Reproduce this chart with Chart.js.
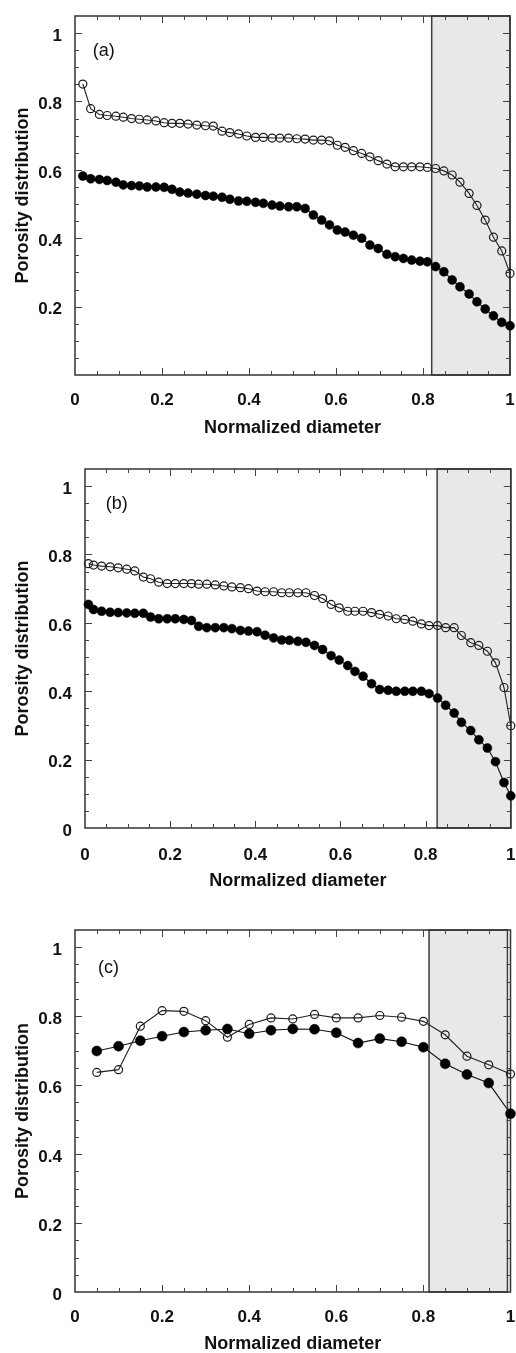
<!DOCTYPE html>
<html>
<head>
<meta charset="utf-8">
<script src="https://cdn.jsdelivr.net/npm/chart.js@4.4.1/dist/chart.umd.min.js"></script>
<style>
html, body { margin: 0; padding: 0; background: #fff; }
body { position: relative; width: 516px; height: 1353px; overflow: hidden; }
canvas { position: absolute; left: 0; }
</style>
</head>
<body>
<canvas id="grafA" width="516" height="437" style="top:0px"></canvas>
<canvas id="grafB" width="516" height="450" style="top:440px"></canvas>
<canvas id="grafC" width="516" height="461" style="top:892px"></canvas>
<script>
// panel (a)
var xA = [0.018, 0.036, 0.056, 0.074, 0.094, 0.111, 0.130, 0.148, 0.166, 0.186, 0.205, 0.223, 0.241, 0.260,
  0.280, 0.300, 0.318, 0.338, 0.356, 0.376, 0.395, 0.415, 0.433, 0.453, 0.471, 0.491, 0.510, 0.529, 0.548,
  0.567, 0.585, 0.603, 0.621, 0.640, 0.659, 0.678, 0.697, 0.717, 0.736, 0.755, 0.774, 0.793, 0.810, 0.829,
  0.848, 0.867, 0.885, 0.906, 0.924, 0.943, 0.962, 0.981, 1.0];
var abiertoA = [0.851, 0.779, 0.762, 0.759, 0.757, 0.754, 0.750, 0.748, 0.746, 0.743, 0.738, 0.736, 0.736, 0.734,
  0.731, 0.729, 0.728, 0.713, 0.709, 0.705, 0.699, 0.695, 0.695, 0.693, 0.693, 0.693, 0.691, 0.690, 0.687,
  0.687, 0.685, 0.672, 0.666, 0.656, 0.648, 0.638, 0.627, 0.617, 0.609, 0.609, 0.609, 0.609, 0.607, 0.604,
  0.597, 0.585, 0.564, 0.531, 0.496, 0.453, 0.403, 0.363, 0.297];
var llenoA = [0.582, 0.574, 0.572, 0.569, 0.564, 0.556, 0.554, 0.553, 0.550, 0.550, 0.549, 0.543, 0.535, 0.532,
  0.529, 0.525, 0.523, 0.520, 0.514, 0.509, 0.508, 0.505, 0.502, 0.497, 0.494, 0.492, 0.492, 0.487, 0.468,
  0.453, 0.439, 0.424, 0.418, 0.409, 0.400, 0.380, 0.370, 0.353, 0.346, 0.341, 0.336, 0.333, 0.331, 0.317,
  0.302, 0.278, 0.258, 0.237, 0.214, 0.193, 0.173, 0.154, 0.144];

// panel (b)
var xB = [0.008, 0.020, 0.039, 0.059, 0.078, 0.098, 0.117, 0.137, 0.154, 0.173, 0.193, 0.212, 0.232, 0.250,
  0.267, 0.286, 0.306, 0.326, 0.345, 0.365, 0.384, 0.404, 0.423, 0.443, 0.462, 0.480, 0.500, 0.519, 0.539,
  0.558, 0.578, 0.597, 0.617, 0.634, 0.653, 0.673, 0.692, 0.712, 0.731, 0.751, 0.770, 0.790, 0.808, 0.828,
  0.847, 0.867, 0.884, 0.906, 0.925, 0.945, 0.964, 0.984, 1.0];
var abiertoB = [0.773, 0.769, 0.766, 0.764, 0.761, 0.757, 0.752, 0.734, 0.729, 0.719, 0.715, 0.715, 0.715, 0.715,
  0.713, 0.713, 0.711, 0.708, 0.705, 0.703, 0.700, 0.693, 0.691, 0.691, 0.688, 0.688, 0.688, 0.688, 0.680,
  0.671, 0.654, 0.644, 0.634, 0.634, 0.634, 0.630, 0.625, 0.620, 0.612, 0.610, 0.605, 0.597, 0.592, 0.592,
  0.586, 0.586, 0.563, 0.542, 0.534, 0.517, 0.483, 0.411, 0.299];
var llenoB = [0.654, 0.639, 0.634, 0.631, 0.630, 0.629, 0.628, 0.628, 0.617, 0.612, 0.612, 0.612, 0.610, 0.607,
  0.590, 0.586, 0.586, 0.586, 0.583, 0.578, 0.576, 0.574, 0.564, 0.556, 0.550, 0.549, 0.546, 0.543, 0.534,
  0.522, 0.504, 0.491, 0.475, 0.458, 0.444, 0.422, 0.405, 0.403, 0.400, 0.400, 0.400, 0.400, 0.393, 0.380,
  0.359, 0.336, 0.309, 0.285, 0.258, 0.234, 0.194, 0.133, 0.094];

// panel (c)
var xC = [0.05, 0.10, 0.15, 0.20, 0.25, 0.30, 0.35, 0.40, 0.45, 0.50, 0.55, 0.60, 0.65, 0.70, 0.75, 0.80,
  0.85, 0.90, 0.95, 1.00];
var abiertoC = [0.637, 0.645, 0.771, 0.816, 0.814, 0.787, 0.739, 0.776, 0.795, 0.792, 0.805, 0.795, 0.795,
  0.802, 0.797, 0.785, 0.746, 0.684, 0.659, 0.632];
var llenoC = [0.699, 0.713, 0.729, 0.742, 0.754, 0.759, 0.763, 0.749, 0.759, 0.763, 0.762, 0.752, 0.722,
  0.735, 0.726, 0.710, 0.662, 0.631, 0.606, 0.517];

// ejes
var xTicks = [0, 0.2, 0.4, 0.6, 0.8, 1];
var xTickLabels = ['0', '0.2', '0.4', '0.6', '0.8', '1'];
var yTicksA = [0.2, 0.4, 0.6, 0.8, 1];
var yTickLabelsA = ['0.2', '0.4', '0.6', '0.8', '1'];
var yTicksBC = [0, 0.2, 0.4, 0.6, 0.8, 1];
var yTickLabelsBC = ['0', '0.2', '0.4', '0.6', '0.8', '1'];

var fuente = 'Liberation Sans';

function puntos(xs, ys) {
  return xs.map(function(x, i) { return {x: x, y: ys[i]}; });
}

// zona sombreada, marco y ticks hacia dentro
var pluginMarco = {
  id: 'marco',
  beforeDatasetsDraw: function(chart, args, opts) {
    var ctx = chart.ctx, a = chart.chartArea;
    var sx = chart.scales.x, sy = chart.scales.y;
    var x1 = sx.getPixelForValue(opts.zona[0]);
    var x2 = sx.getPixelForValue(opts.zona[1]);
    ctx.save();
    ctx.fillStyle = '#e8e8e8';
    ctx.fillRect(x1, a.top, x2 - x1, a.bottom - a.top);
    ctx.strokeStyle = '#3c3c3c';
    ctx.lineWidth = 1.5;
    ctx.strokeRect(x1, a.top, x2 - x1, a.bottom - a.top);

    ctx.strokeStyle = '#333';
    ctx.lineWidth = 1.5;
    ctx.strokeRect(a.left, a.top, a.right - a.left, a.bottom - a.top);

    ctx.lineWidth = 1;
    ctx.strokeStyle = '#444';
    ctx.beginPath();
    for (var k = 1; k < 20; k++) {
      var L = (k % 4 === 0) ? 7 : 4;
      var px = Math.round(sx.getPixelForValue(k * 0.05)) + 0.5;
      ctx.moveTo(px, a.bottom); ctx.lineTo(px, a.bottom - L);
      ctx.moveTo(px, a.top); ctx.lineTo(px, a.top + L);
    }
    for (var j = 1; j <= 20; j++) {
      var M = (j % 4 === 0) ? 7 : 4;
      var py = Math.round(sy.getPixelForValue(j * 0.05)) + 0.5;
      ctx.moveTo(a.left, py); ctx.lineTo(a.left + M, py);
      ctx.moveTo(a.right, py); ctx.lineTo(a.right - M, py);
    }
    ctx.stroke();

    ctx.fillStyle = '#111';
    ctx.font = '18px "' + fuente + '"';
    ctx.textAlign = 'left';
    ctx.textBaseline = 'middle';
    ctx.fillText(opts.etiqueta, sx.getPixelForValue(opts.posEtiqueta[0]), sy.getPixelForValue(opts.posEtiqueta[1]));
    ctx.restore();
  }
};

function crearGrafica(id, p) {
  return new Chart(document.getElementById(id), {
    type: 'scatter',
    data: {
      datasets: [{
        data: puntos(p.xs, p.abierto),
        showLine: true,
        borderColor: '#222',
        borderWidth: 1.1,
        pointRadius: p.rAbierto,
        pointBorderColor: '#1a1a1a',
        pointBorderWidth: 1.2,
        pointBackgroundColor: 'rgba(0,0,0,0)',
        clip: false
      }, {
        data: puntos(p.xs, p.lleno),
        showLine: true,
        borderColor: '#111',
        borderWidth: 1.1,
        pointRadius: p.rLleno,
        pointBorderColor: '#000',
        pointBorderWidth: 0.5,
        pointBackgroundColor: '#000',
        clip: false
      }]
    },
    options: {
      responsive: false,
      animation: false,
      devicePixelRatio: 1,
      layout: {padding: {top: p.padTop, right: p.padRight, left: 0, bottom: 0}},
      plugins: {
        legend: {display: false},
        tooltip: {enabled: false},
        marco: {zona: p.zona, etiqueta: p.etiqueta, posEtiqueta: p.posEtiqueta}
      },
      scales: {
        x: {
          type: 'linear', min: 0, max: 1,
          afterBuildTicks: function(s) { s.ticks = xTicks.map(function(v) { return {value: v}; }); },
          afterFit: function(s) { s.height = p.altoX; s.paddingLeft = 0; s.paddingRight = 0; },
          grid: {display: false, drawTicks: false},
          border: {display: false},
          ticks: {
            autoSkip: false, maxRotation: 0, padding: p.padX, color: '#111',
            font: {family: fuente, size: 17, weight: 'bold'},
            callback: function(v, i) { return xTickLabels[i]; }
          },
          title: {
            display: true, text: 'Normalized diameter', color: '#111', padding: 0,
            font: {family: fuente, size: 18, weight: 'bold', lineHeight: 1}
          }
        },
        y: {
          type: 'linear', min: 0, max: 1.05,
          afterBuildTicks: function(s) { s.ticks = p.yTicks.map(function(v) { return {value: v}; }); },
          afterFit: function(s) { s.width = p.anchoY; s.paddingTop = 0; s.paddingBottom = 0; },
          grid: {display: false, drawTicks: false},
          border: {display: false},
          ticks: {
            padding: 13, labelOffset: 3, color: '#111',
            font: {family: fuente, size: 17, weight: 'bold'},
            callback: function(v, i) { return p.yLabels[i]; }
          },
          title: {
            display: true, text: 'Porosity distribution', color: '#111', padding: {top: 14, bottom: 0},
            font: {family: fuente, size: 18, weight: 'bold', lineHeight: 1}
          }
        }
      }
    },
    plugins: [pluginMarco]
  });
}

crearGrafica('grafA', {
  xs: xA, abierto: abiertoA, lleno: llenoA, yTicks: yTicksA, yLabels: yTickLabelsA,
  zona: [0.82, 1], etiqueta: '(a)', posEtiqueta: [0.041, 0.947],
  padTop: 16, padRight: 6, altoX: 62, anchoY: 75, padX: 15, rAbierto: 4, rLleno: 4.5
});
crearGrafica('grafB', {
  xs: xB, abierto: abiertoB, lleno: llenoB, yTicks: yTicksBC, yLabels: yTickLabelsBC,
  zona: [0.827, 1], etiqueta: '(b)', posEtiqueta: [0.049, 0.947],
  padTop: 29, padRight: 4, altoX: 62, anchoY: 85, padX: 17, rAbierto: 4, rLleno: 4.5
});
crearGrafica('grafC', {
  xs: xC, abierto: abiertoC, lleno: llenoC, yTicks: yTicksBC, yLabels: yTickLabelsBC,
  zona: [0.813, 0.993], etiqueta: '(c)', posEtiqueta: [0.053, 0.939],
  padTop: 38, padRight: 3, altoX: 61, anchoY: 75, padX: 15, rAbierto: 4, rLleno: 5
});
</script>
</body>
</html>
